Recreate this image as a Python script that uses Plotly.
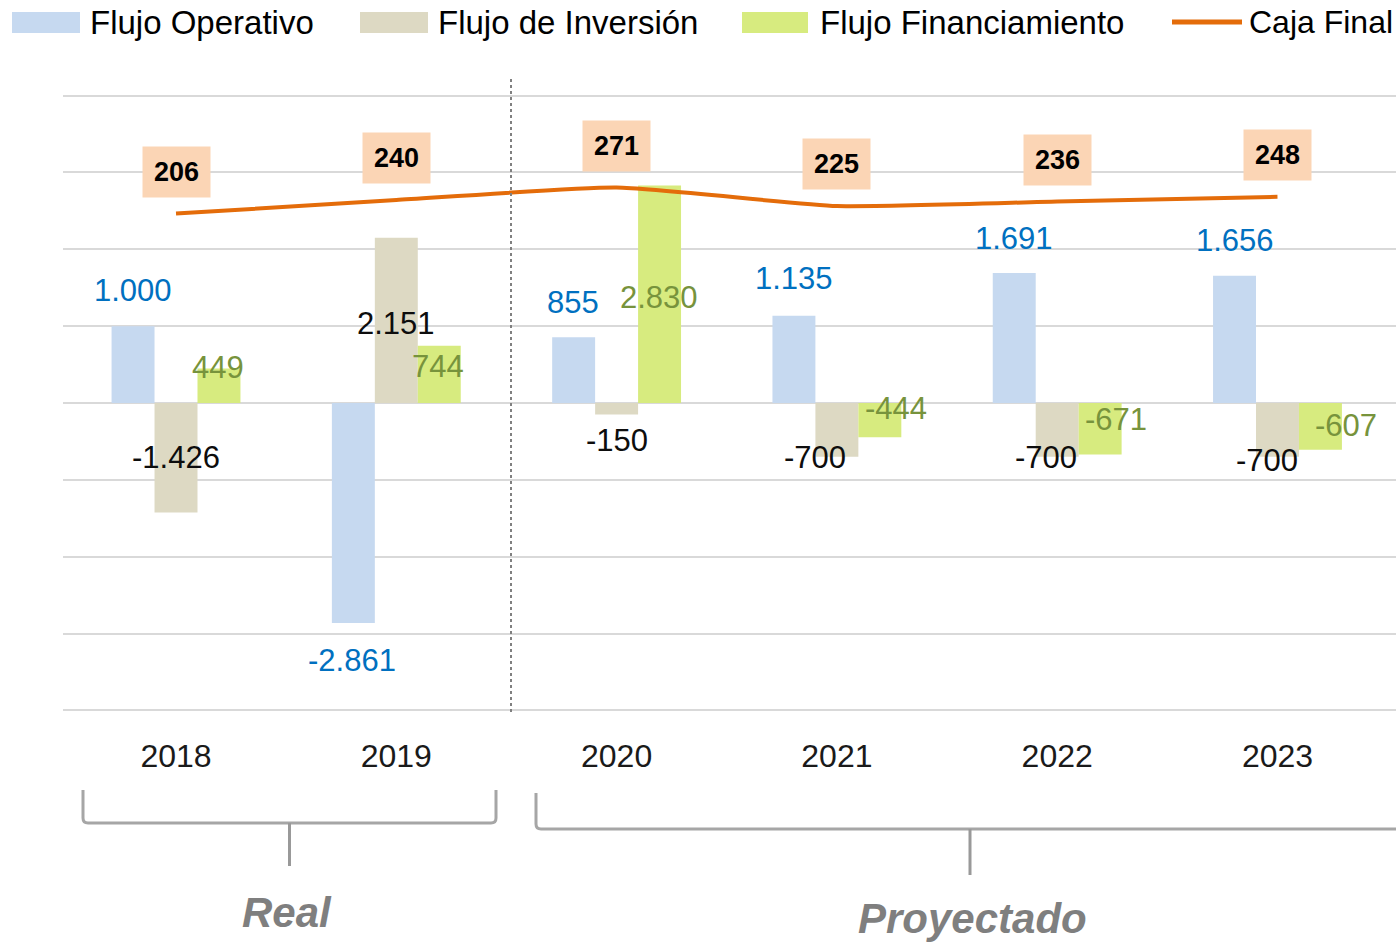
import plotly.graph_objects as go

# ---------------- data ----------------
years = ["2018", "2019", "2020", "2021", "2022", "2023"]
flujo_operativo = [1000, -2861, 855, 1135, 1691, 1656]
flujo_inversion = [-1426, 2151, -150, -700, -700, -700]
flujo_financiamiento = [449, 744, 2830, -444, -671, -607]
caja_final = [206, 240, 271, 225, 236, 248]

series_names = ["Flujo Operativo", "Flujo de Inversión", "Flujo Financiamiento", "Caja Final"]
group_labels = ["Real", "Proyectado"]

# ---------------- styling ----------------
W, H = 1396, 945
ML, MR, MT, MB = 63, 0, 94, 233
PW, PH = W - ML - MR, H - MT - MB
FONT = "Liberation Sans"

c_oper, c_inv, c_fin = "#C6D9F0", "#DDD9C3", "#D7EB7F"
c_line = "#E46C0A"
t_oper, t_inv, t_fin = "#0070C0", "#0D0D0D", "#77933C"

# label offsets in pixels (xshift, pixels upward) relative to the value point
off_oper = [(-43, 36), (-44, -38), (-44, 35), (-43, 37), (-43, 35), (-42, 35)]
off_inv = [(0, 55), (0, -86), (0, -26), (-22, -1), (-11, -1), (-10, -4)]
off_fin = [(42, 1), (42, -21), (42, -112), (59, 29), (59, 35), (69, 24)]


def fmt(v):
    s = f"{abs(v):,}".replace(",", ".")
    return ("-" if v < 0 else "") + s


def px(x):
    return (x - ML) / PW


def py(y):
    return (H - MB - y) / PH


fig = go.Figure()
for name, vals, col in [(series_names[0], flujo_operativo, c_oper),
                        (series_names[1], flujo_inversion, c_inv),
                        (series_names[2], flujo_financiamiento, c_fin)]:
    fig.add_trace(go.Bar(x=years, y=vals, name=name, marker=dict(color=col, line=dict(width=0)),
                         showlegend=False, hoverinfo="skip"))

fig.add_trace(go.Scatter(x=years, y=caja_final, name=series_names[3], yaxis="y2", mode="lines",
                         line=dict(color=c_line, width=4, shape="spline", smoothing=0.5),
                         showlegend=False, hoverinfo="skip"))

annotations = []
for vals, offs, col in [(flujo_operativo, off_oper, t_oper),
                        (flujo_inversion, off_inv, t_inv),
                        (flujo_financiamiento, off_fin, t_fin)]:
    for i, v in enumerate(vals):
        xs, ys = offs[i]
        annotations.append(dict(x=i, y=v, xref="x", yref="y", text=fmt(v), showarrow=False,
                                xanchor="center", yanchor="middle", xshift=xs, yshift=ys,
                                font=dict(family=FONT, size=31, color=col)))
# caja final boxes
for i, v in enumerate(caja_final):
    annotations.append(dict(x=i, y=v, xref="x", yref="y2", text=f"<b>{v}</b>", showarrow=False,
                            xanchor="center", yanchor="middle",
                            yshift=42, bgcolor="#FBD5B5", width=67, height=50, borderpad=0,
                            font=dict(family=FONT, size=27, color="#000000")))

# custom legend
leg_y = 22
legend_items = [
    ("rect", 12, 80, 88, c_oper, series_names[0], 33),
    ("rect", 360, 428, 436, c_inv, series_names[1], 33),
    ("rect", 742, 808, 818, c_fin, series_names[2], 33),
    ("line", 1172, 1242, 1247, c_line, series_names[3], 32),
]
shapes = []
for kind, x0, x1, xt, col, label, fs in legend_items:
    if kind == "rect":
        shapes.append(dict(type="rect", xref="paper", yref="paper", x0=px(x0), x1=px(x1),
                           y0=py(33), y1=py(12), fillcolor=col, line=dict(width=0), layer="above"))
    else:
        shapes.append(dict(type="line", xref="paper", yref="paper", x0=px(x0), x1=px(x1),
                           y0=py(leg_y), y1=py(leg_y), line=dict(color=col, width=5)))
    annotations.append(dict(x=px(xt), y=py(leg_y), xref="paper", yref="paper", text=label,
                            showarrow=False, xanchor="left", yanchor="middle",
                            font=dict(family=FONT, size=fs, color="#000000")))

# dashed separator between real and projected
shapes.append(dict(type="line", xref="paper", yref="paper", x0=px(511), x1=px(511),
                   y0=py(712), y1=py(78), line=dict(color="#808080", width=2, dash="dot")))


# brackets
def bracket(xl, xr, ytop, ybar, ystem):
    xm = (xl + xr) / 2
    r = 5
    p = (f"M {px(xl)},{py(ytop)} L {px(xl)},{py(ybar - r)} Q {px(xl)},{py(ybar)} {px(xl + r)},{py(ybar)} "
         f"L {px(xr - r)},{py(ybar)} Q {px(xr)},{py(ybar)} {px(xr)},{py(ybar - r)} L {px(xr)},{py(ytop)}")
    return [dict(type="path", xref="paper", yref="paper", path=p, line=dict(color="#A6A6A6", width=3)),
            dict(type="line", xref="paper", yref="paper", x0=px(xm), x1=px(xm), y0=py(ybar), y1=py(ystem),
                 line=dict(color="#999999", width=3))]


shapes += bracket(83, 496, 790, 823, 866)
shapes += bracket(536, 1404, 793, 829, 875)

annotations.append(dict(x=px(287), y=py(912), xref="paper", yref="paper", text=f"<b><i>{group_labels[0]}</i></b>",
                        showarrow=False, xanchor="center", yanchor="middle",
                        font=dict(family=FONT, size=42, color="#7F7F7F")))
annotations.append(dict(x=px(972), y=py(918), xref="paper", yref="paper", text=f"<b><i>{group_labels[1]}</i></b>",
                        showarrow=False, xanchor="center", yanchor="middle",
                        font=dict(family=FONT, size=42, color="#7F7F7F")))

fig.update_layout(
    width=W, height=H,
    margin=dict(l=ML, r=MR, t=MT, b=MB),
    paper_bgcolor="white", plot_bgcolor="white",
    barmode="group", bargap=0.415, bargroupgap=0,
    showlegend=False,
    xaxis=dict(type="category", range=[-0.513, 5.538], showgrid=False, zeroline=False,
               showline=False, ticks="", ticklabelstandoff=22,
               tickfont=dict(family=FONT, size=32, color="#1A1A1A")),
    yaxis=dict(range=[-4020, 4020], dtick=1000, showticklabels=False, gridcolor="#D9D9D9",
               gridwidth=2, zeroline=True, zerolinecolor="#D9D9D9", zerolinewidth=2),
    yaxis2=dict(range=[-1040, 505], overlaying="y", side="right", visible=False, showgrid=False),
    shapes=shapes,
    annotations=annotations,
)

fig.write_html("out.html", config={"displayModeBar": False},
               post_script="document.body.style.margin='0';")
